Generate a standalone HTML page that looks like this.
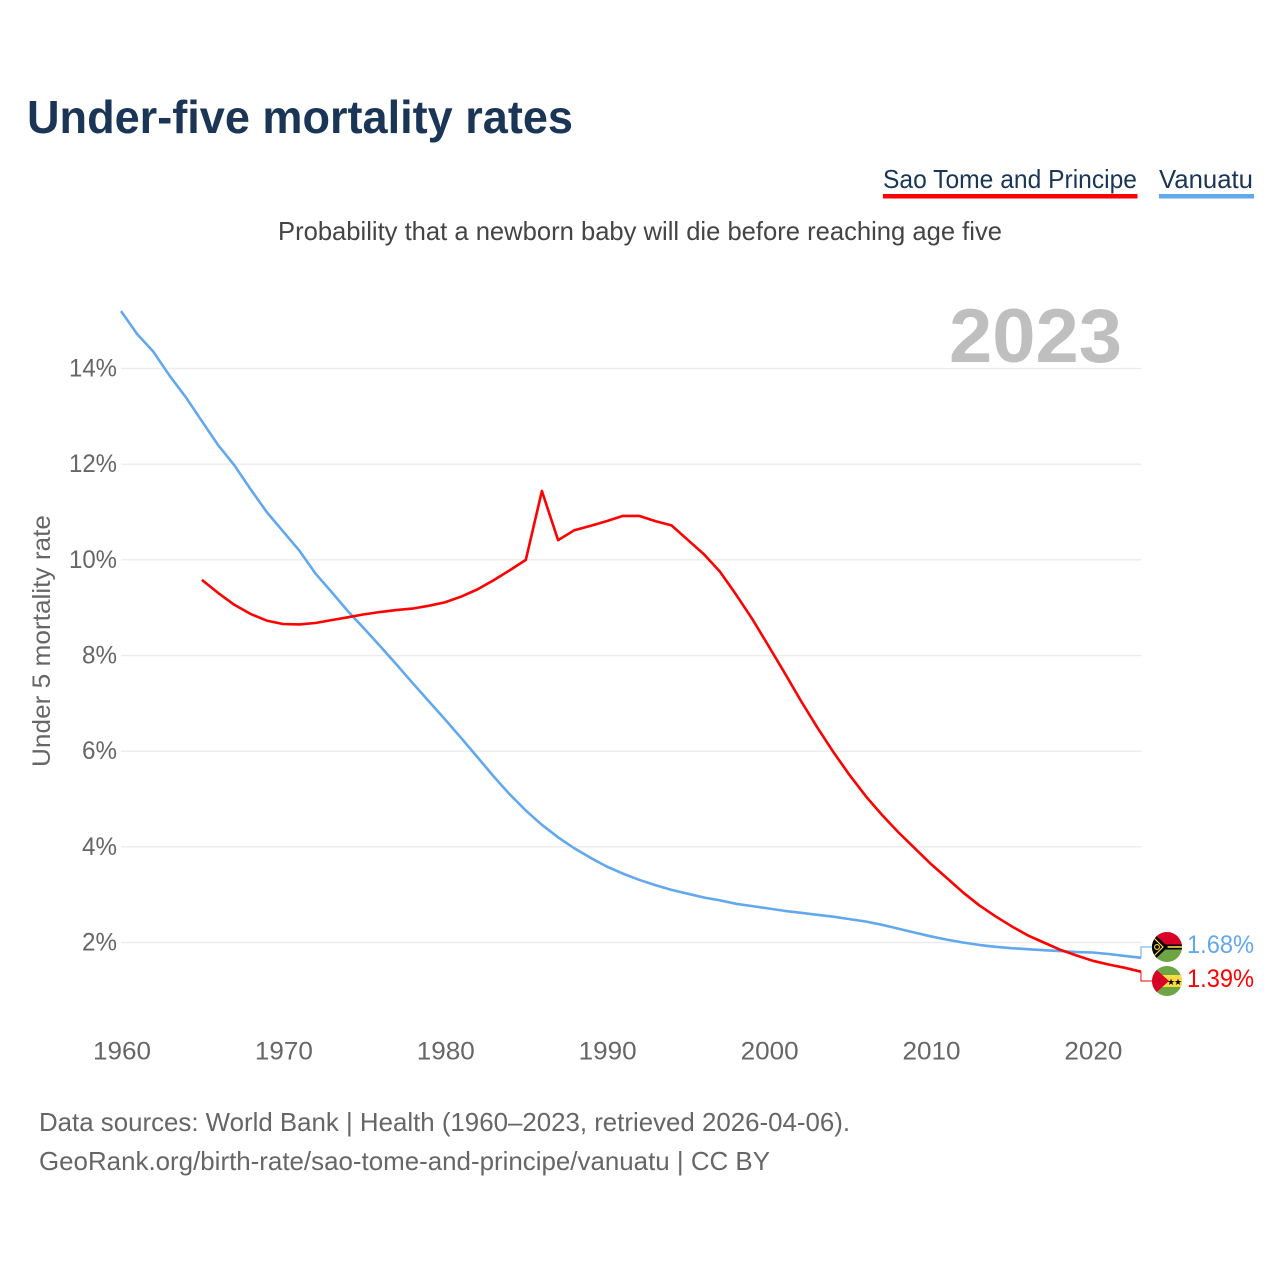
<!DOCTYPE html>
<html lang="en">
<head>
<meta charset="utf-8">
<title>Under-five mortality rates</title>
<style>
html,body{margin:0;padding:0;background:#fff;width:1280px;height:1280px;overflow:hidden}
svg{display:block;font-family:"Liberation Sans",sans-serif}
</style>
</head>
<body>
<svg id="chart" width="1280" height="1280" viewBox="0 0 1280 1280" xmlns="http://www.w3.org/2000/svg">
  <defs>
    <clipPath id="clip-vu"><circle cx="1167" cy="947" r="15"/></clipPath>
    <clipPath id="clip-st"><circle cx="1167" cy="981" r="15"/></clipPath>
  </defs>
  <rect width="1280" height="1280" fill="#fff"/>
  <text x="27" y="133" font-size="46" font-weight="700" fill="#1a3556" textLength="546" lengthAdjust="spacingAndGlyphs">Under-five mortality rates</text>

  <g>
    <text x="883" y="188" font-size="26" fill="#1a3556" textLength="254" lengthAdjust="spacingAndGlyphs">Sao Tome and Principe</text>
    <rect x="883" y="194" width="254.500" height="4.500" fill="#ff0000"/>
  </g>
  <g>
    <text x="1159" y="188" font-size="26" fill="#1a3556" textLength="94" lengthAdjust="spacingAndGlyphs">Vanuatu</text>
    <rect x="1159" y="194" width="95" height="4.500" fill="#62a8ee"/>
  </g>

  <text x="278" y="240" font-size="26" fill="#444444" textLength="724" lengthAdjust="spacingAndGlyphs">Probability that a newborn baby will die before reaching age five</text>

  <g id="grid"></g>
  <text x="949" y="362" font-size="76" font-weight="700" fill="#bfbfbf" textLength="173" lengthAdjust="spacingAndGlyphs">2023</text>
  <g id="yticks"></g>
  <g id="xticks"></g>
  <text transform="translate(50,767) rotate(-90)" font-size="25" fill="#666666" textLength="252" lengthAdjust="spacingAndGlyphs">Under 5 mortality rate</text>

  <g id="series"></g>

  <g clip-path="url(#clip-vu)">
    <rect x="1150" y="930" width="34" height="17" fill="#d80027"/>
    <rect x="1150" y="947" width="34" height="17" fill="#6da544"/>
    <rect x="1150" y="944.500" width="34" height="5" fill="#000"/>
    <rect x="1150" y="946.200" width="34" height="1.600" fill="#ffda44"/>
    <polygon points="1150,930 1168,947 1150,964" fill="#000"/>
    <polyline points="1152,936 1163,947 1152,958" fill="none" stroke="#ffda44" stroke-width="1.200"/>
    <circle cx="1157" cy="947" r="2.400" fill="none" stroke="#ffda44" stroke-width="1.100"/>
  </g>
  <g clip-path="url(#clip-st)">
    <rect x="1150" y="964" width="34" height="34" fill="#6da544"/>
    <rect x="1150" y="975" width="34" height="12" fill="#ffda44"/>
    <polygon points="1150,964 1169,981 1150,998" fill="#d80027"/>
    <text x="1171" y="985" font-size="9" fill="#000" text-anchor="middle">★</text>
    <text x="1178" y="985" font-size="9" fill="#000" text-anchor="middle">★</text>
  </g>
  <g id="labels"></g>

  <text x="39" y="1131" font-size="26" fill="#666666" textLength="811" lengthAdjust="spacingAndGlyphs">Data sources: World Bank | Health (1960–2023, retrieved 2026-04-06).</text>
  <text x="39" y="1170" font-size="26" fill="#666666" textLength="731" lengthAdjust="spacingAndGlyphs">GeoRank.org/birth-rate/sao-tome-and-principe/vanuatu | CC BY</text>
</svg>
<script>
const yTickValues = [2, 4, 6, 8, 10, 12, 14];
const xTickValues = [1960, 1970, 1980, 1990, 2000, 2010, 2020];
const vanuatuStartYear = 1960;
const vanuatuValues = [15.2,14.72,14.35,13.85,13.4,12.9,12.4,11.98,11.48,11.0,10.6,10.2,9.72,9.33,8.93,8.57,8.2,7.82,7.43,7.05,6.67,6.28,5.88,5.48,5.1,4.76,4.46,4.2,3.97,3.77,3.59,3.44,3.31,3.2,3.1,3.02,2.94,2.88,2.81,2.76,2.71,2.66,2.62,2.58,2.54,2.49,2.44,2.37,2.29,2.21,2.13,2.06,2.0,1.95,1.91,1.88,1.86,1.84,1.82,1.8,1.79,1.76,1.72,1.68];
const saoTomeStartYear = 1965;
const saoTomeValues = [9.58,9.31,9.06,8.87,8.73,8.66,8.65,8.68,8.74,8.8,8.86,8.91,8.95,8.98,9.04,9.11,9.23,9.38,9.57,9.78,10.0,11.44,10.41,10.62,10.71,10.81,10.92,10.92,10.81,10.72,10.42,10.12,9.75,9.27,8.76,8.2,7.63,7.05,6.5,5.98,5.5,5.06,4.67,4.31,3.98,3.65,3.35,3.05,2.78,2.55,2.34,2.15,2.0,1.85,1.73,1.62,1.54,1.47,1.39];
const svgNS = 'http://www.w3.org/2000/svg';
function xScale(year) { return 121 + (year - 1960) * 16.19; }
function yScale(value) { return 942.5 - (value - 2) * 47.83; }
function make(tag, parent) { const el = document.createElementNS(svgNS, tag); parent.appendChild(el); return el; }
const gridGroup = document.getElementById('grid');
const yTickGroup = document.getElementById('yticks');
const xTickGroup = document.getElementById('xticks');
const seriesGroup = document.getElementById('series');
const labelGroup = document.getElementById('labels');
yTickValues.forEach(function (v) {
  const line = make('line', gridGroup);
  
  
  line.setAttribute('x1', 121); line.setAttribute('x2', 1141.5);
  line.setAttribute('y1', yScale(v)); line.setAttribute('y2', yScale(v));
  line.setAttribute('stroke', '#ececec'); line.setAttribute('stroke-width', 1.4);
  const t = make('text', yTickGroup);
  
  
  t.setAttribute('x', 117); t.setAttribute('y', yScale(v) + 8);
  t.setAttribute('text-anchor', 'end'); t.setAttribute('font-size', 25); t.setAttribute('fill', '#666666');
  t.setAttribute('textLength', v >= 10 ? 48 : 35); t.setAttribute('lengthAdjust', 'spacingAndGlyphs');
  t.textContent = v + '%';
});
xTickValues.forEach(function (yr) {
  const t = make('text', xTickGroup);
  
  
  t.setAttribute('x', xScale(yr) + 1); t.setAttribute('y', 1059.5);
  t.setAttribute('text-anchor', 'middle'); t.setAttribute('font-size', 25); t.setAttribute('fill', '#666666');
  t.setAttribute('textLength', 58); t.setAttribute('lengthAdjust', 'spacingAndGlyphs');
  t.textContent = yr;
});
function drawSeries(values, startYear, color, name, flagY, labelY) {
  const line = make('polyline', seriesGroup);
  
  
  line.setAttribute('fill', 'none'); line.setAttribute('stroke', color);
  line.setAttribute('stroke-width', 2.6); line.setAttribute('stroke-linejoin', 'round');
  line.setAttribute('points', values.map(function (v, i) { return xScale(startYear + i).toFixed(1) + ',' + yScale(v).toFixed(1); }).join(' '));
  const last = values[values.length - 1];
  const endX = xScale(startYear + values.length - 1);
  const conn = make('polyline', seriesGroup);
  
  
  conn.setAttribute('fill', 'none'); conn.setAttribute('stroke', color); conn.setAttribute('stroke-width', 1);
  conn.setAttribute('points', endX + ',' + yScale(last) + ' ' + endX + ',' + flagY + ' ' + (endX + 11) + ',' + flagY);
  const t = make('text', labelGroup);
  
  
  t.setAttribute('x', 1187); t.setAttribute('y', labelY);
  t.setAttribute('font-size', 25); t.setAttribute('fill', color);
  t.setAttribute('textLength', 67); t.setAttribute('lengthAdjust', 'spacingAndGlyphs');
  t.textContent = last.toFixed(2) + '%';
}
drawSeries(vanuatuValues, vanuatuStartYear, '#62a8ee', 'vanuatu', 947, 953);
drawSeries(saoTomeValues, saoTomeStartYear, '#ff0000', 'sao-tome', 981, 987);
</script>
</body>
</html>
